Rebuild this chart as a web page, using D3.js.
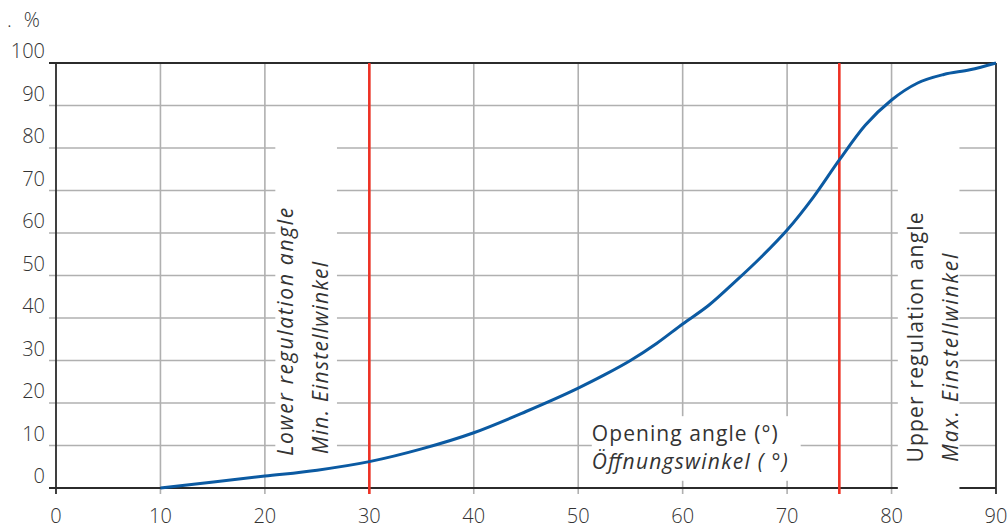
<!DOCTYPE html>
<html><head><meta charset="utf-8">
<script src="https://cdn.jsdelivr.net/npm/d3@7"></script>
<style>
html,body{margin:0;padding:0;background:#fff;}
svg{display:block;font-family:"Open Sans",Lato,sans-serif;font-weight:300;}
.lbl{font-weight:400;}
</style></head>
<body><svg id="c" width="1008" height="529"></svg>
<script>
const angles  = [10, 20, 25, 30, 35, 40, 45, 50, 52.5, 55, 57.5, 60, 62.5, 65, 67.5, 70, 72.5, 75, 77.5, 80, 82.5, 85, 87.5, 90];
const percent = [0, 2.8, 4.2, 6.2, 9.2, 13, 18, 23.5, 26.6, 30, 34, 38.6, 43, 48.5, 54.3, 60.7, 68.4, 77.2, 85.4, 91.3, 95.3, 97.3, 98.4, 100];
const xTicks = [0, 10, 20, 30, 40, 50, 60, 70, 80, 90];
const yTicks = [0, 10, 20, 30, 40, 50, 60, 70, 80, 90, 100];
const regulationAngles = [30, 75];
const lowerLabel = ["Lower regulation angle", "Min. Einstellwinkel"];
const upperLabel = ["Upper regulation angle", "Max. Einstellwinkel"];
const xTitle = ["Opening angle (°)", "Öffnungswinkel ( °)"];
const yUnit = "%";

const svg = d3.select("#c");
const x = d3.scaleLinear().domain([0, 90]).range([56, 996]);
const y = d3.scaleLinear().domain([0, 100]).range([488, 63]);
const grid = "#b0b0b0", dark = "#2b2b2b", txt = "#333";

svg.append("g").selectAll("line").data(xTicks.filter(d => d > 0 && d < 90)).join("line")
  .attr("x1", d => x(d)).attr("x2", d => x(d)).attr("y1", y(100)).attr("y2", y(0) + 6)
  .attr("stroke", grid).attr("stroke-width", 1.6);
svg.append("g").selectAll("line").data(yTicks.filter(d => d > 0 && d < 100)).join("line")
  .attr("x1", x(0) - 7).attr("x2", x(90)).attr("y1", d => y(d)).attr("y2", d => y(d))
  .attr("stroke", grid).attr("stroke-width", 1.6);

const frame = svg.append("g").attr("stroke", dark).attr("stroke-width", 1.8);
frame.append("line").attr("x1", x(0) - 7).attr("x2", x(90)).attr("y1", y(0)).attr("y2", y(0));
frame.append("line").attr("x1", x(0) - 7).attr("x2", x(90)).attr("y1", y(100)).attr("y2", y(100));
frame.append("line").attr("x1", x(0)).attr("x2", x(0)).attr("y1", y(100)).attr("y2", y(0) + 6);
frame.append("line").attr("x1", x(90)).attr("x2", x(90)).attr("y1", y(100)).attr("y2", y(0) + 6);

const boxes = [
  {x0: 21.0, x1: 26.9, y0: 89, y1: 6.2},
  {x0: 80.6, x1: 86.5, y0: 89, y1: -0.5},
  {x0: 51.3, x1: 71.3, y0: 16.9, y1: 1.7}
];
svg.append("g").selectAll("rect").data(boxes).join("rect")
  .attr("x", d => x(d.x0)).attr("width", d => x(d.x1) - x(d.x0))
  .attr("y", d => y(d.y0)).attr("height", d => y(d.y1) - y(d.y0))
  .attr("fill", "#fff");

svg.append("g").selectAll("line").data(regulationAngles).join("line")
  .attr("x1", d => x(d)).attr("x2", d => x(d)).attr("y1", y(100)).attr("y2", y(0) + 6)
  .attr("stroke", "#ee3124").attr("stroke-width", 2.6);

const pts = angles.map((a, i) => [a, percent[i]]);
svg.append("path").datum(pts)
  .attr("d", d3.line().x(d => x(d[0])).y(d => y(d[1])).curve(d3.curveMonotoneX))
  .attr("fill", "none").attr("stroke", "#0b5aa2").attr("stroke-width", 3);

svg.append("g").selectAll("text").data(xTicks).join("text")
  .attr("x", d => x(d)).attr("y", 523).attr("text-anchor", "middle")
  .attr("font-size", 20).attr("fill", txt).text(d => d);
svg.append("g").selectAll("text").data(yTicks).join("text")
  .attr("x", 45).attr("y", d => y(d) - 5).attr("text-anchor", "end")
  .attr("font-size", 20).attr("fill", txt).text(d => d);
svg.append("text").attr("x", 7).attr("y", 27).attr("font-size", 20).attr("fill", txt)
  .text(".").append("tspan").attr("dx", 12).text(yUnit);

function vlabel(xa, lines, styles, lens, y0) {
  lines.forEach((t, i) => {
    const bx = x(xa) + i * 35;
    svg.append("text").attr("class", "lbl").attr("transform", `translate(${bx},${y(y0[i])}) rotate(-90)`)
      .attr("font-size", 21).attr("font-style", styles[i]).attr("fill", txt)
      .attr("textLength", lens[i]).attr("lengthAdjust", "spacing").text(t);
  });
}
vlabel(22.7, lowerLabel, ["italic", "italic"], [248, 192], [7.6, 8.0]);
vlabel(83, upperLabel, ["normal", "italic"], [250, 208], [6.0, 6.2]);

svg.append("text").attr("class", "lbl").attr("x", x(51.3)).attr("y", 441).attr("font-size", 21).attr("fill", txt)
  .attr("textLength", 186).attr("lengthAdjust", "spacing").text(xTitle[0]);
svg.append("text").attr("class", "lbl").attr("x", x(51.3)).attr("y", 469).attr("font-size", 21).attr("font-style", "italic").attr("fill", txt)
  .attr("textLength", 196).attr("lengthAdjust", "spacing").text(xTitle[1]);
</script></body></html>
